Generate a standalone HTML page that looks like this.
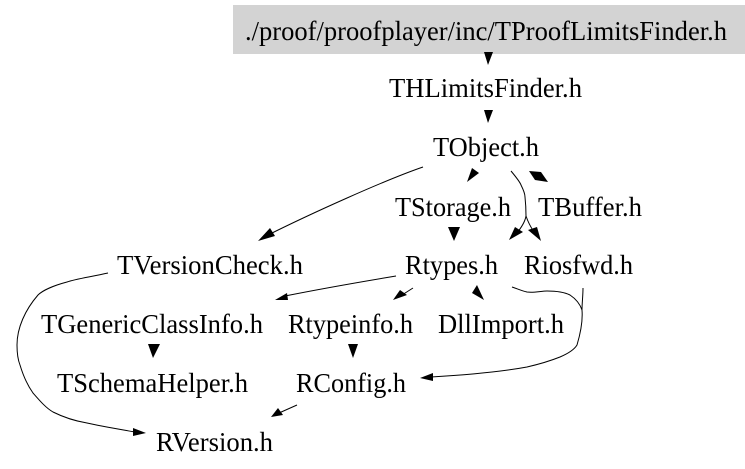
<!DOCTYPE html>
<html>
<head>
<meta charset="utf-8">
<style>
html,body{margin:0;padding:0;background:#fff;}
svg{display:block;}
text{font-family:"Liberation Serif",serif;font-size:27.5px;fill:#000;}
</style>
</head>
<body>
<svg width="745" height="469" viewBox="0 0 745 469" xmlns="http://www.w3.org/2000/svg">
<rect x="233" y="5" width="512" height="49" fill="#d3d3d3"/>
<text x="245" y="40" textLength="482" lengthAdjust="spacingAndGlyphs">./proof/proofplayer/inc/TProofLimitsFinder.h</text>
<text x="389" y="97" textLength="193" lengthAdjust="spacingAndGlyphs">THLimitsFinder.h</text>
<text x="433" y="156" textLength="106" lengthAdjust="spacingAndGlyphs">TObject.h</text>
<text x="395" y="216" textLength="116" lengthAdjust="spacingAndGlyphs">TStorage.h</text>
<text x="538" y="216" textLength="104" lengthAdjust="spacingAndGlyphs">TBuffer.h</text>
<text x="117" y="274" textLength="186" lengthAdjust="spacingAndGlyphs">TVersionCheck.h</text>
<text x="405" y="274" textLength="93" lengthAdjust="spacingAndGlyphs">Rtypes.h</text>
<text x="524" y="274" textLength="109" lengthAdjust="spacingAndGlyphs">Riosfwd.h</text>
<text x="41" y="333" textLength="222" lengthAdjust="spacingAndGlyphs">TGenericClassInfo.h</text>
<text x="288" y="333" textLength="125" lengthAdjust="spacingAndGlyphs">Rtypeinfo.h</text>
<text x="438" y="333" textLength="126" lengthAdjust="spacingAndGlyphs">DllImport.h</text>
<text x="57" y="392" textLength="191" lengthAdjust="spacingAndGlyphs">TSchemaHelper.h</text>
<text x="296" y="392" textLength="110" lengthAdjust="spacingAndGlyphs">RConfig.h</text>
<text x="156" y="451" textLength="117" lengthAdjust="spacingAndGlyphs">RVersion.h</text>
<g fill="none" stroke="#000" stroke-width="1">
<path d="M423 167C385 180 310 214 266 236"/>
<path d="M511 171C516 177 520 182 521 185C524 191 525 194 525 197C526 206 526 212 526 216C525 222 522 227 516 234"/>
<path d="M526 216C528 222 530 226 534 232"/>
<path d="M108 273C90 277 75 279 67 282C52 286 42 291 38 295C25 310 17 328 17 345C17 355 18 360 20 365C23 375 28 386 33 393C40 401 46 408 53 412C63 417 75 421 87 423C100 426 118 429 135 432"/>
<path d="M396 276C360 282 320 289 285 296"/>
<path d="M413 288L402 295"/>
<path d="M512 287C518 289 522 291 527 292C534 293 541 291 547 291C556 291 564 292 570 295C576 299 580 304 582 310C583 322 580 335 577 345C574 350 567 354 560 357C550 361 540 364 527 367C500 372 465 375 431 377"/>
<path d="M583 288C583 296 582 303 582 310"/>
<path d="M297 405L279 413"/>
</g>
<g fill="#000" stroke="none">
<polygon points="484,52 493,52 488,65"/>
<polygon points="484,110 493,110 488,123"/>
<polygon points="467,182 472,168 479,173"/>
<polygon points="529,171 541,172 548,182 535,180"/>
<polygon points="448,227 460,227 454,241"/>
<polygon points="509,240 515,227 523,232"/>
<polygon points="541,241 528,230 537,227"/>
<polygon points="258,241 270,228 275,236"/>
<polygon points="146,433 133,428 133,436"/>
<polygon points="148,344 160,344 153,358"/>
<polygon points="271,417 278,408 283,415"/>
<polygon points="275,300 287,293 288,300"/>
<polygon points="393,300 400,290 407,295"/>
<polygon points="477,285 472,293 484,300"/>
<polygon points="348,344 358,344 353,358"/>
<polygon points="420,378 433,373 433,381"/>
</g>
</svg>
</body>
</html>
